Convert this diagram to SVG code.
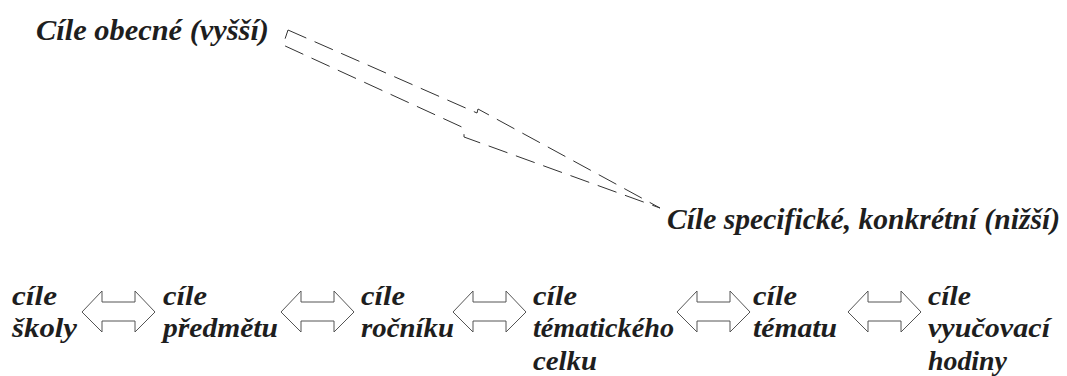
<svg xmlns="http://www.w3.org/2000/svg" width="1067" height="376" viewBox="0 0 1067 376">
<style>
.t{font-family:"Liberation Serif","Times New Roman",serif;font-style:italic;font-weight:bold;fill:#1e1e1e}
.top{font-size:29px}
.b{font-size:28px}
.dash{fill:none;stroke:#333;stroke-width:1;stroke-dasharray:20 9}
.dbl{fill:#fff;stroke:#555;stroke-width:1}
</style>
<defs>
<path id="dbl" d="M0,0 L20,-21 L20,-10 L53,-10 L53,-21 L73,0 L53,20 L53,9 L20,9 L20,20 Z"/>
</defs>
<rect width="1067" height="376" fill="#fff"/>
<g id="connectors">
<path class="dash" d="M288,30 L477,113 L478,109 L660,208 L464,137 L464,128 L283,45 Z"/>
<use href="#dbl" class="dbl" x="82" y="312"/>
<use href="#dbl" class="dbl" x="281" y="312"/>
<use href="#dbl" class="dbl" x="453" y="312"/>
<use href="#dbl" class="dbl" x="677" y="312"/>
<use href="#dbl" class="dbl" x="848" y="312"/>
</g>
<g id="cile-obecne"><text class="t top" x="36" y="40" fill="#2b2b2b" textLength="233" lengthAdjust="spacingAndGlyphs">Cíle obecné (vyšší)</text></g>
<g id="cile-specificke"><text class="t top" x="667" y="229" textLength="393" lengthAdjust="spacingAndGlyphs">Cíle specifické, konkrétní (nižší)</text></g>
<g id="skoly"><text class="t b" x="12" y="305" textLength="45" lengthAdjust="spacingAndGlyphs">cíle</text><text class="t b" x="12" y="337" textLength="65" lengthAdjust="spacingAndGlyphs">školy</text></g>
<g id="predmetu"><text class="t b" x="163" y="305" textLength="44" lengthAdjust="spacingAndGlyphs">cíle</text><text class="t b" x="163" y="337" textLength="115" lengthAdjust="spacingAndGlyphs">předmětu</text></g>
<g id="rocniku"><text class="t b" x="361" y="305" textLength="44" lengthAdjust="spacingAndGlyphs">cíle</text><text class="t b" x="361" y="337" textLength="93" lengthAdjust="spacingAndGlyphs">ročníku</text></g>
<g id="tematickeho-celku"><text class="t b" x="533" y="305" textLength="44" lengthAdjust="spacingAndGlyphs">cíle</text><text class="t b" x="533" y="337" textLength="141" lengthAdjust="spacingAndGlyphs">tématického</text><text class="t b" x="533" y="370" textLength="64" lengthAdjust="spacingAndGlyphs">celku</text></g>
<g id="tematu"><text class="t b" x="753" y="305" textLength="44" lengthAdjust="spacingAndGlyphs">cíle</text><text class="t b" x="753" y="337" textLength="84" lengthAdjust="spacingAndGlyphs">tématu</text></g>
<g id="vyucovaci-hodiny"><text class="t b" x="928" y="305" textLength="43" lengthAdjust="spacingAndGlyphs">cíle</text><text class="t b" x="928" y="337" textLength="122" lengthAdjust="spacingAndGlyphs">vyučovací</text><text class="t b" x="928" y="370" textLength="79" lengthAdjust="spacingAndGlyphs">hodiny</text></g>
</svg>
